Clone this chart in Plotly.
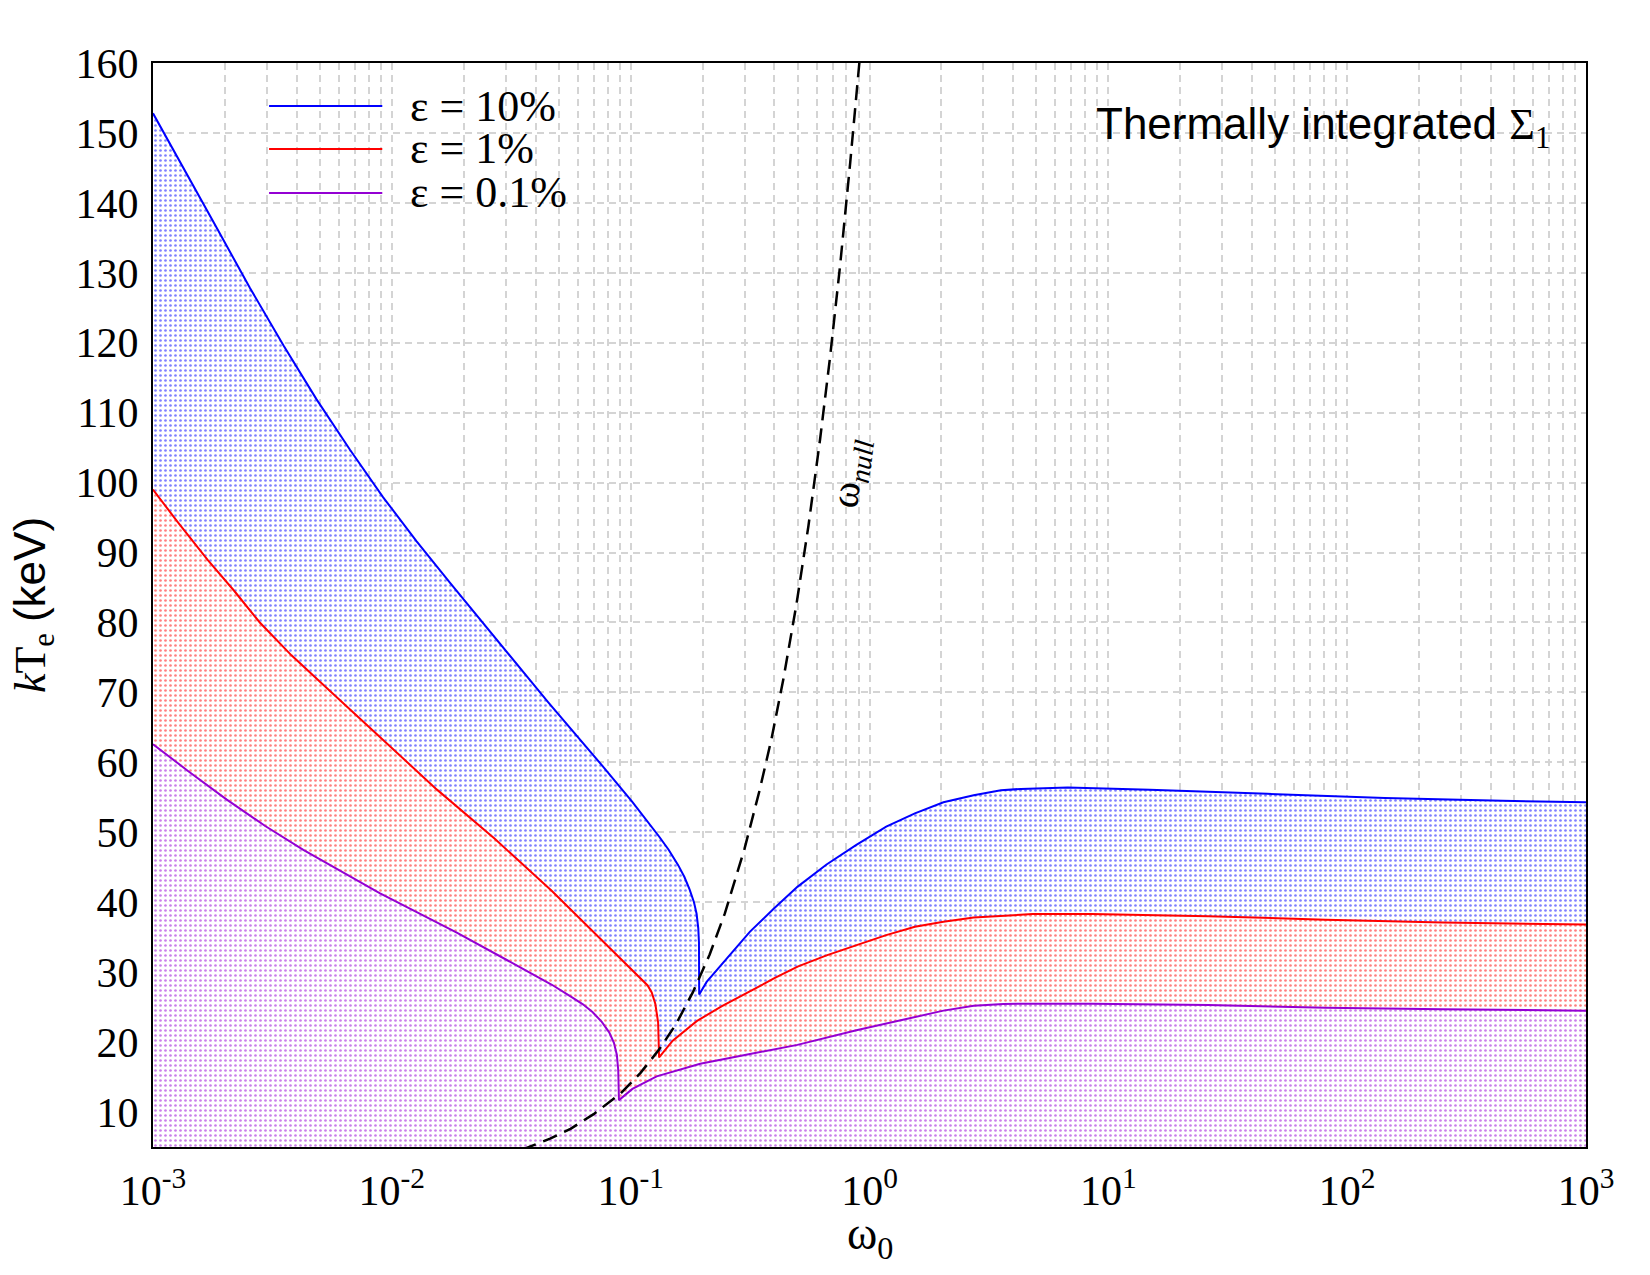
import plotly.graph_objects as go

# ---------------- data ----------------
omega_10 = [0.001, 0.00134, 0.00185, 0.00255, 0.00352, 0.00484, 0.00668, 0.0092, 0.0127,
            0.0175, 0.0250, 0.0451, 0.0757, 0.1014, 0.1315, 0.1442, 0.1581, 0.1679, 0.1766,
            0.1841, 0.1888, 0.1919, 0.1932, 0.1936, 0.208, 0.2838, 0.316, 0.398, 0.499,
            0.661, 0.881, 1.175, 1.549, 2.04, 2.73, 3.55, 4.30, 6.76, 14.9, 46.2, 143.9,
            446.7, 1000]
kTe_10 = [152.8, 145.1, 136.4, 127.8, 119.6, 111.9, 104.7, 97.9, 91.6,
          85.7, 79.3, 68.6, 59.6, 54.4, 49.4, 47.5, 45.3, 43.6, 41.8,
          40.0, 38.35, 36.25, 34.2, 26.8, 28.6, 34.0, 35.8, 39.1, 42.2,
          45.4, 48.2, 50.8, 52.7, 54.3, 55.3, 56.0, 56.2, 56.4, 56.1, 55.5, 54.9,
          54.5, 54.3]

omega_1 = [0.001, 0.00126, 0.00169, 0.00219, 0.0028, 0.0038, 0.00512, 0.00889, 0.01545,
           0.0269, 0.0468, 0.0815, 0.098, 0.1178, 0.1225, 0.1268, 0.1303, 0.1315, 0.15,
           0.189, 0.24, 0.316, 0.398, 0.50, 0.661, 0.871, 1.175, 1.549, 2.04, 2.73, 3.63,
           4.82, 8.51, 26.2, 81.3, 251, 1000]
kTe_1 = [99.0, 94.5, 89.0, 84.5, 80.0, 75.3, 71.2, 63.7, 56.1,
         49.1, 41.6, 33.5, 30.8, 28.1, 27.1, 25.5, 22.8, 17.8, 20.2,
         23.0, 25.1, 27.3, 29.1, 30.8, 32.4, 33.8, 35.3, 36.5, 37.2, 37.8, 38.1,
         38.3, 38.3, 38.0, 37.5, 37.1, 36.8]

omega_01 = [0.001, 0.00141, 0.00203, 0.00295, 0.00426, 0.00889, 0.01862, 0.0389, 0.0468,
            0.0562, 0.0631, 0.0692, 0.0757, 0.0813, 0.0851, 0.0875, 0.0887, 0.0893, 0.1017,
            0.1285, 0.1955, 0.316, 0.499, 0.881, 1.549, 2.04, 2.73, 3.63, 4.82, 8.51,
            26.2, 81.3, 251, 1000]
kTe_01 = [62.6, 58.7, 54.7, 50.9, 47.5, 41.3, 35.7, 29.8, 28.2,
          26.5, 25.4, 24.3, 22.9, 21.4, 19.9, 18.2, 16.0, 11.7, 13.3,
          15.1, 16.9, 18.3, 19.6, 21.7, 23.6, 24.5, 25.2, 25.45, 25.5, 25.5,
          25.3, 24.9, 24.7, 24.5]

omega_null = [0.035, 0.038, 0.046, 0.056, 0.070, 0.091, 0.110, 0.132, 0.155, 0.182, 0.214,
              0.248, 0.300, 0.346, 0.389, 0.437, 0.495, 0.555, 0.621, 0.684, 0.753,
              0.830, 0.914]
kTe_null = [4.6, 5.05, 6.2, 7.6, 9.7, 12.7, 15.6, 19.0, 22.6, 27.1, 32.5,
            38.4, 47.7, 55.9, 63.4, 72.1, 82.7, 93.8, 106.2, 118.0, 131.0,
            145.7, 161.3]

series_names = ["ε = 10%", "ε = 1%", "ε = 0.1%"]
series_colors = ["#0000ff", "#ff0000", "#9400d3"]

x_tickvals = [1e-3, 1e-2, 1e-1, 1e0, 1e1, 1e2, 1e3]
x_ticktext = ["10<sup>-3</sup>", "10<sup>-2</sup>", "10<sup>-1</sup>", "10<sup>0</sup>",
              "10<sup>1</sup>", "10<sup>2</sup>", "10<sup>3</sup>"]
y_tickvals = list(range(10, 161, 10))

SERIF = "Liberation Serif"
SANS = "Liberation Sans"
GRID = "#d4d4d4"

fig = go.Figure()

for xs, ys, name, col in zip([omega_10, omega_1, omega_01], [kTe_10, kTe_1, kTe_01],
                             series_names, series_colors):
    fig.add_trace(go.Scatter(
        x=xs, y=ys, name=name, mode="lines",
        line=dict(color=col, width=2),
        fill="tozeroy", fillcolor="white",
        fillpattern=dict(shape=".", fgcolor=col, bgcolor="white", size=5, solidity=0.22),
        showlegend=False,
    ))

fig.add_trace(go.Scatter(
    x=omega_null, y=kTe_null, mode="lines", name="ω_null",
    line=dict(color="black", width=2.5, dash="15px,8px"),
    showlegend=False,
))

# custom legend (long line samples as in the reference)
leg_y = [0.9603, 0.9207, 0.8801]
for yy, name, col in zip(leg_y, series_names, series_colors):
    fig.add_shape(type="line", xref="paper", yref="paper", x0=0.081, x1=0.160, y0=yy, y1=yy,
                  line=dict(color=col, width=2))
    fig.add_annotation(xref="paper", yref="paper", x=0.178, y=yy, text=name, showarrow=False,
                       xanchor="left", yanchor="middle",
                       font=dict(family=SERIF, size=44, color="black"))

fig.add_annotation(xref="paper", yref="paper", x=0.976, y=0.941,
                   text="Thermally integrated <span style='font-family:Liberation Serif'>Σ<sub>1</sub></span>",
                   showarrow=False, xanchor="right", yanchor="middle",
                   font=dict(family=SANS, size=44, color="black"))

fig.add_annotation(x=-0.08, y=101.4, xref="x", yref="y",
                   text="ω<sub><i>null</i></sub>", showarrow=False, textangle=-82.5,
                   font=dict(family=SERIF, size=40, color="black"))

# x-axis title placed below tick labels
fig.add_annotation(xref="paper", yref="paper", x=0.5, y=-0.083, text="ω<sub>0</sub>",
                   showarrow=False, xanchor="center", yanchor="middle",
                   font=dict(family=SERIF, size=46, color="black"))

minor_vals = [m * 10 ** e for e in range(-3, 3) for m in range(2, 10)]

fig.update_layout(
    width=1650, height=1275,
    margin=dict(l=153, r=64, t=63, b=128),
    paper_bgcolor="white", plot_bgcolor="white",
    xaxis=dict(
        type="log", range=[-3, 3],
        tickmode="array", tickvals=x_tickvals, ticktext=x_ticktext,
        tickfont=dict(family=SERIF, size=42, color="black"),
        ticks="", ticklabelstandoff=6,
        showline=True, linecolor="black", linewidth=2, mirror=True,
        showgrid=True, gridcolor=GRID, gridwidth=1.5, griddash="7px,5px",
        minor=dict(tickmode="array", tickvals=minor_vals, showgrid=True,
                   gridcolor=GRID, gridwidth=1.5, griddash="7px,5px", ticks=""),
        zeroline=False,
    ),
    yaxis=dict(
        range=[5, 160],
        tickmode="array", tickvals=y_tickvals,
        tickfont=dict(family=SERIF, size=42, color="black"),
        ticks="", ticklabelstandoff=4,
        showline=True, linecolor="black", linewidth=2, mirror=True,
        showgrid=True, gridcolor=GRID, gridwidth=1.5, griddash="7px,5px",
        zeroline=False,
        title=dict(text="<i>k</i>T<sub>e</sub> <span style='font-family:Liberation Sans'>(keV)</span>",
                   font=dict(family=SERIF, size=44, color="black"), standoff=16),
    ),
)

fig.write_html("out.html")
